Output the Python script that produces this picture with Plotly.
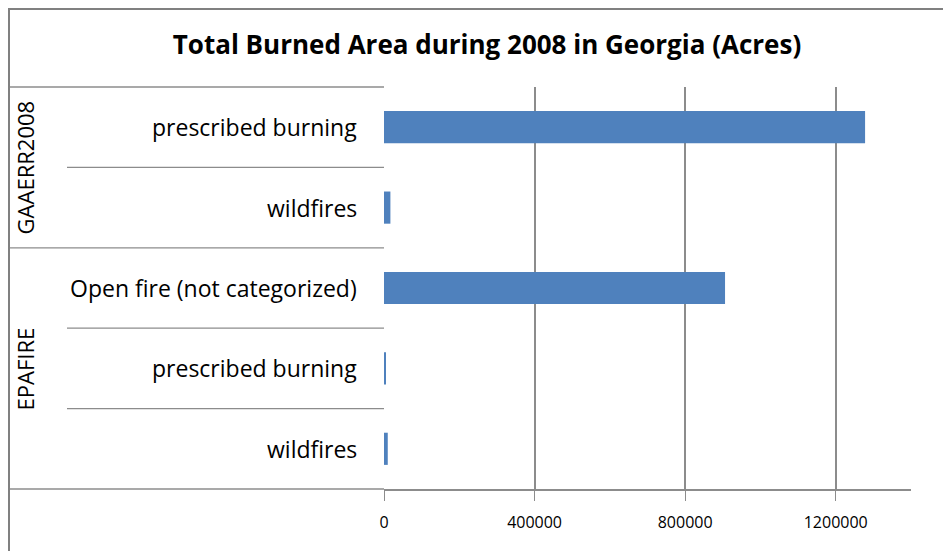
import plotly.graph_objects as go

title = "Total Burned Area during 2008 in Georgia (Acres)"
groups = ["GAAERR2008", "GAAERR2008", "EPAFIRE", "EPAFIRE", "EPAFIRE"]
categories = ["prescribed burning", "wildfires", "Open fire (not categorized)",
              "prescribed burning", "wildfires"]
values = [1278000, 17000, 906000, 5000, 10000]
tick_values = [0, 400000, 800000, 1200000]
tick_labels = ["0", "400000", "800000", "1200000"]
x_max = 1400000

# page body has an 8px margin, so the figure is offset by (8, 8) on screen
OFF = 8
W, H = 951 - OFF, 551 - OFF
PLOT_X0, PLOT_X1, PLOT_Y0, PLOT_Y1 = 384, 911, 87, 489   # screen pixels
L, T = PLOT_X0 - OFF, PLOT_Y0 - OFF
PW, PH = PLOT_X1 - PLOT_X0, PLOT_Y1 - PLOT_Y0
R, B = W - L - PW, H - T - PH

def px_x(X):
    return (X - PLOT_X0) / PW

def px_y(Y):
    return (PLOT_Y1 - Y) / PH

keys = [f"{g}|{c}" for g, c in zip(groups, categories)]
n = len(keys)

FONT = "Open Sans, Calibri, sans-serif"
GRID = "#8c8c8c"

fig = go.Figure(go.Bar(
    x=values, y=keys, orientation="h",
    marker=dict(color="#4F81BD", line=dict(width=0)),
    width=0.4,
))

annotations = []
shapes = []

# category labels
for i, (k, c) in enumerate(zip(keys, categories)):
    annotations.append(dict(
        x=px_x(359), y=1 - (i + 0.5) / n, xref="paper", yref="paper",
        text=c, showarrow=False, xanchor="right", yanchor="middle",
        font=dict(family=FONT, size=23, color="#000000")))

# group labels and separators
group_spans = []
start = 0
for i in range(1, n + 1):
    if i == n or groups[i] != groups[start]:
        group_spans.append((groups[start], start, i))
        start = i
for g, s, e in group_spans:
    annotations.append(dict(
        x=px_x(25), y=1 - (s + e) / 2 / n, xref="paper", yref="paper",
        text=g, showarrow=False, textangle=-90, xanchor="center", yanchor="middle",
        font=dict(family=FONT, size=22, color="#000000")))

group_bounds = set()
for g, s, e in group_spans:
    group_bounds.add(s)
    group_bounds.add(e)
for k in range(n + 1):
    x0 = px_x(8) if k in group_bounds else px_x(67)
    shapes.append(dict(type="line", xref="paper", yref="paper",
                       x0=x0, x1=0, y0=1 - k / n, y1=1 - k / n,
                       line=dict(color=GRID, width=1.3)))

# outer chart border (top and left visible)
shapes.append(dict(type="line", xref="paper", yref="paper",
                   x0=px_x(8), x1=px_x(960), y0=px_y(9), y1=px_y(9),
                   line=dict(color="#808080", width=2)))
shapes.append(dict(type="line", xref="paper", yref="paper",
                   x0=px_x(9), x1=px_x(9), y0=px_y(9), y1=px_y(560),
                   line=dict(color="#808080", width=2)))

fig.update_layout(
    width=W, height=H,
    margin=dict(l=L, r=R, t=T, b=B, pad=0),
    paper_bgcolor="white", plot_bgcolor="white",
    showlegend=False,
    title=dict(text=f"<b>{title}</b>", x=px_x(487), xref="paper", xanchor="center",
               y=1 - (45 - OFF) / H, yanchor="middle",
               font=dict(family=FONT, size=26, color="#000000")),
    xaxis=dict(range=[0, x_max], tickvals=tick_values, ticktext=tick_labels,
               showgrid=True, gridcolor=GRID, gridwidth=1.5,
               showline=True, linecolor=GRID, linewidth=1.5,
               ticks="outside", ticklen=10, tickcolor=GRID, tickwidth=1.3,
               ticklabelstandoff=8,
               tickfont=dict(family=FONT, size=16, color="#000000"),
               zeroline=False, fixedrange=True),
    yaxis=dict(categoryorder="array", categoryarray=keys, autorange="reversed",
               showticklabels=False, showgrid=False, zeroline=False,
               showline=False, ticks=""),
    annotations=annotations, shapes=shapes,
)

fig.write_html("out.html")
